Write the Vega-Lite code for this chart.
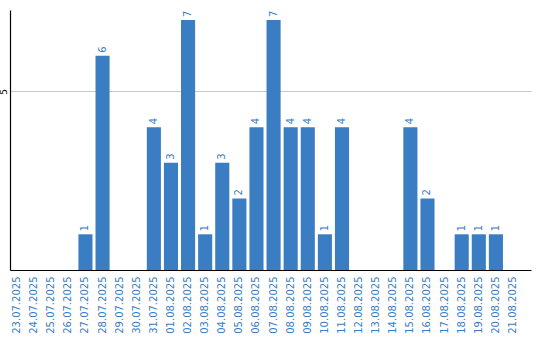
{
  "$schema": "https://vega.github.io/schema/vega-lite/v6.json",
  "autosize": "none",
  "width": 521,
  "height": 260,
  "padding": {"left": 10, "top": 10, "right": 9, "bottom": 70},
  "background": "white",
  "config": {"view": {"stroke": null}, "font": "DejaVu Sans"},
  "data": {"values": [
    {"date": "23.07.2025", "v": 0},
    {"date": "24.07.2025", "v": 0},
    {"date": "25.07.2025", "v": 0},
    {"date": "26.07.2025", "v": 0},
    {"date": "27.07.2025", "v": 1},
    {"date": "28.07.2025", "v": 6},
    {"date": "29.07.2025", "v": 0},
    {"date": "30.07.2025", "v": 0},
    {"date": "31.07.2025", "v": 4},
    {"date": "01.08.2025", "v": 3},
    {"date": "02.08.2025", "v": 7},
    {"date": "03.08.2025", "v": 1},
    {"date": "04.08.2025", "v": 3},
    {"date": "05.08.2025", "v": 2},
    {"date": "06.08.2025", "v": 4},
    {"date": "07.08.2025", "v": 7},
    {"date": "08.08.2025", "v": 4},
    {"date": "09.08.2025", "v": 4},
    {"date": "10.08.2025", "v": 1},
    {"date": "11.08.2025", "v": 4},
    {"date": "12.08.2025", "v": 0},
    {"date": "13.08.2025", "v": 0},
    {"date": "14.08.2025", "v": 0},
    {"date": "15.08.2025", "v": 4},
    {"date": "16.08.2025", "v": 2},
    {"date": "17.08.2025", "v": 0},
    {"date": "18.08.2025", "v": 1},
    {"date": "19.08.2025", "v": 1},
    {"date": "20.08.2025", "v": 1},
    {"date": "21.08.2025", "v": 0}
  ]},
  "encoding": {
    "x": {
      "field": "date", "type": "ordinal", "sort": null,
      "scale": {"paddingInner": 0.176, "paddingOuter": 0.32, "align": 0},
      "axis": {
        "title": null, "labelAngle": -90, "labelFontSize": 10, "labelColor": "#3a7dc4",
        "ticks": false, "labelPadding": 6, "domainColor": "#000000", "domainWidth": 1.2
      }
    },
    "y": {
      "field": "v", "type": "quantitative",
      "scale": {"domain": [0, 7.28], "nice": false},
      "axis": {
        "title": null, "values": [5], "ticks": false, "labelAngle": -90, "labelFontSize": 9,
        "labelColor": "#000000", "labelPadding": 2, "domainColor": "#000000", "domainWidth": 1.2,
        "gridColor": "#c8c8c8", "gridWidth": 1
      }
    }
  },
  "layer": [
    {"mark": {"type": "bar", "color": "#3b7dc2"}},
    {
      "transform": [{"filter": "datum.v > 0"}],
      "mark": {"type": "text", "angle": -90, "align": "left", "baseline": "middle", "dx": 3, "fontSize": 10, "color": "#3a7dc4"},
      "encoding": {"text": {"field": "v", "type": "quantitative"}}
    }
  ]
}
